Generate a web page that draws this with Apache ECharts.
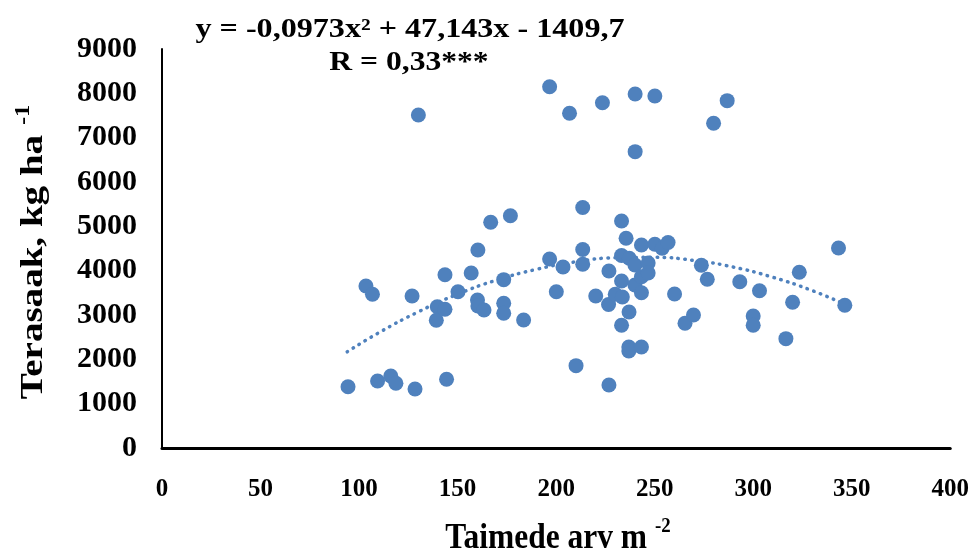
<!DOCTYPE html>
<html>
<head>
<meta charset="utf-8">
<script src="https://cdn.jsdelivr.net/npm/echarts@6/dist/echarts.min.js"></script>
<style>
html,body{margin:0;padding:0;background:#fff;}
#chart{width:972px;height:552px;}
</style>
</head>
<body>
<div id="chart"></div>
<script>
// Plant density (Taimede arv m-2)
var densityX = [94.4,103.5,106.8,109.4,116.1,118.7,126.9,128.4,130.1,139.7,139.2,143.6,143.6,144.4,150.2,156.9,160.3,160.1,160.3,163.4,166.8,173.4,173.4,173.4,176.8,183.5,196.7,196.7,200.1,203.5,206.8,210.1,213.5,213.5,213.5,220.1,223.5,226.8,226.6,226.8,230.0,233.2,233.2,233.2,233.6,233.2,235.5,237.0,236.9,236.9,237.1,240.0,240.0,240.1,240.1,243.3,243.3,243.3,243.3,246.7,246.7,250.1,250.1,253.8,256.8,260.1,265.4,269.7,273.7,276.7,279.9,286.8,293.2,300.0,300.0,303.2,316.6,320.0,323.4,343.3,346.5];
// Grain yield (Terasaak, kg ha-1)
var yieldY = [1383,3654,3467,1511,1624,1460,3429,1331,7512,3187,2881,3909,3129,1550,3526,3948,4467,3339,3203,3113,5091,3797,3264,3039,5240,2887,4263,8150,3526,4083,7550,1857,5425,4478,4144,3429,7789,3993,3237,1421,3467,5121,4342,3767,3406,2770,4730,3068,2278,2188,4279,4128,3677,7986,6684,4579,3864,3503,2278,4173,3948,7940,4595,4505,4636,3474,2813,3000,4121,3806,7325,7835,3751,2978,2768,3548,2466,3287,3963,4512,3219];
// Trendline values
var trendX = [94,110,130,150,170,190,210,230,250,270,290,310,330,347];
var trendY = [2170,2600,3070,3470,3790,4030,4200,4290,4300,4230,4080,3850,3550,3230];
// Axis ticks
var xTicks = {min:0, max:400, step:50};
var yTicks = {min:0, max:9000, step:1000};
var equationText = 'y = -0,0973x² + 47,143x - 1409,7';
var rText = 'R = 0,33***';
var xTitle = 'Taimede arv m ';
var xTitleSup = '-2';
var yTitle = 'Terasaak, kg ha ';
var yTitleSup = '-1';

var points = densityX.map(function(x,i){return [x, yieldY[i]];});
var trend = trendX.map(function(x,i){return [x, trendY[i]];});

var font = '"Liberation Serif","Times New Roman",serif';
function titleRich(size, supSize){
  return {
    t:{fontFamily:font, fontWeight:'bold', fontSize:size, fill:'#000', verticalAlign:'bottom', lineHeight:size+4},
    s:{fontFamily:font, fontWeight:'bold', fontSize:supSize, fill:'#000', verticalAlign:'top', lineHeight:size+4, padding:[0,0,Math.round(size*0.45),0]}
  };
}
var chart = echarts.init(document.getElementById('chart'), null, {renderer:'canvas'});
chart.setOption({
  animation:false,
  backgroundColor:'#ffffff',
  grid:{left:162,right:19,top:49,bottom:104},
  xAxis:{
    type:'value', min:xTicks.min, max:xTicks.max, interval:xTicks.step,
    axisLine:{show:true, onZero:false, lineStyle:{color:'#000',width:3}},
    axisTick:{show:false}, splitLine:{show:false},
    axisLabel:{color:'#000', fontFamily:font, fontWeight:'bold', fontSize:25, margin:29,
      formatter:function(v){return String(v);}}
  },
  yAxis:{
    type:'value', min:yTicks.min, max:yTicks.max, interval:yTicks.step,
    axisLine:{show:true, lineStyle:{color:'#000',width:2}},
    axisTick:{show:false}, splitLine:{show:false},
    axisLabel:{color:'#000', fontFamily:font, fontWeight:'bold', fontSize:30, margin:25,
      formatter:function(v){return String(v);}}
  },
  series:[
    {
      type:'line', data:trend, smooth:true, showSymbol:false, z:1,
      lineStyle:{color:'#4f81bd', width:3.5, type:[0.5,6.5], cap:'round'}
    },
    {
      type:'scatter', data:points, symbol:'circle', symbolSize:15, z:2,
      itemStyle:{color:'#4f81bd', opacity:1}
    }
  ],
  graphic:[
    {type:'text', x:410, y:30, scaleX:1.19, style:{text:equationText, fontFamily:font, fontWeight:'bold', fontSize:27, fill:'#000', align:'center', verticalAlign:'middle'}},
    {type:'text', x:409, y:63, scaleX:1.17, style:{text:rText, fontFamily:font, fontWeight:'bold', fontSize:27, fill:'#000', align:'center', verticalAlign:'middle'}},
    {type:'text', x:558, y:536, scaleX:1.05, scaleY:1.2, style:{text:'{t|'+xTitle+'}{s|'+xTitleSup+'}', rich:titleRich(30,18), align:'center', verticalAlign:'middle'}},
    {type:'text', x:32, y:252, rotation:Math.PI/2, scaleX:1.22, style:{text:'{t|'+yTitle+'}{s|'+yTitleSup+'}', rich:titleRich(32,20), align:'center', verticalAlign:'middle'}}
  ]
});
</script>
</body>
</html>
